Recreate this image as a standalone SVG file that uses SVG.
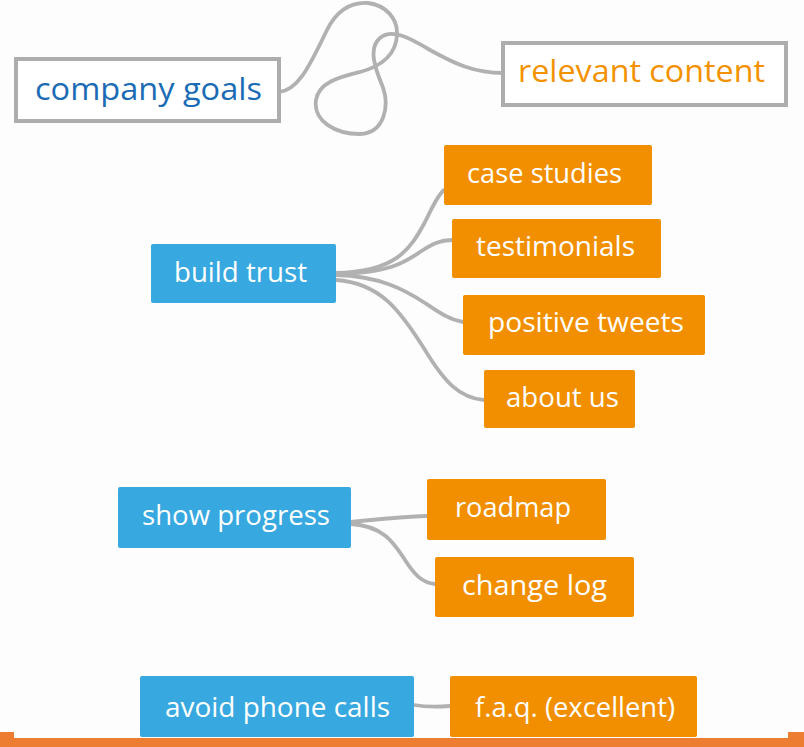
<svg xmlns="http://www.w3.org/2000/svg" width="804" height="747" viewBox="0 0 804 747">
  <style>
    .bg { fill: #fdfdfd; }
    .frame { fill: #ffffff; stroke: #adadad; stroke-width: 4; }
    .goal { fill: #37a8e0; }
    .item { fill: #f18f01; }
    .label { font-family: "Open Sans", "Liberation Sans", sans-serif; font-size: 27.5px; fill: #ffffff; }
    .big { font-family: "Open Sans", "Liberation Sans", sans-serif; font-size: 31px; }
    .link { fill: none; stroke: #b1b1b1; stroke-width: 3.8; stroke-linecap: round; }
    .bar { fill: #ed7d31; }
  </style>

  <rect class="bg" x="0" y="0" width="804" height="747"/>

  <!-- connectors -->
  <g id="connectors">
    <path class="link" d="M279,92 C300,90 312,60 327,30 C337,10 352,2 368,3 C385,5 398,18 397,35 C396,55 382,66 360,72 C340,77 319,82 316,100 C313,121 335,134 360,134 C385,133 390,105 382,85 C375,68 368,48 380,38 C392,28 410,38 430,50 C455,64 475,73 503,73"/>
    <path class="link" d="M336,273 C395,272 410,250 425,222 C432,208 437,196 444,190"/>
    <path class="link" d="M336,274 C390,273 405,262 420,252 C432,244 440,240 452,240"/>
    <path class="link" d="M336,275 C380,276 405,290 425,303 C440,313 450,320 463,322"/>
    <path class="link" d="M336,280 C380,283 400,310 425,350 C445,383 460,398 484,400"/>
    <path class="link" d="M351,522 C380,519 400,517 427,516"/>
    <path class="link" d="M351,524 C385,526 395,545 405,560 C414,574 422,583 435,584"/>
    <path class="link" d="M414,705 C425,707 438,707 450,706"/>
  </g>

  <g id="company-goals">
    <rect class="frame" x="16" y="59" width="263" height="62"/>
    <text class="big" x="35" y="100" fill="#1b6cb4" textLength="227" lengthAdjust="spacingAndGlyphs">company goals</text>
  </g>

  <g id="relevant-content">
    <rect class="frame" x="503" y="43" width="283" height="62"/>
    <text class="big" x="518" y="82" fill="#f39200" textLength="247" lengthAdjust="spacingAndGlyphs">relevant content</text>
  </g>

  <g id="build-trust">
    <rect class="goal" x="151" y="244" width="185" height="59" rx="2"/>
    <text class="label" x="174" y="282" textLength="133" lengthAdjust="spacingAndGlyphs">build trust</text>
  </g>

  <g id="case-studies">
    <rect class="item" x="444" y="145" width="208" height="60" rx="2"/>
    <text class="label" x="467" y="183" textLength="155" lengthAdjust="spacingAndGlyphs">case studies</text>
  </g>

  <g id="testimonials">
    <rect class="item" x="452" y="219" width="209" height="59" rx="2"/>
    <text class="label" x="476" y="256" textLength="159" lengthAdjust="spacingAndGlyphs">testimonials</text>
  </g>

  <g id="positive-tweets">
    <rect class="item" x="463" y="295" width="242" height="60" rx="2"/>
    <text class="label" x="488" y="332" textLength="196" lengthAdjust="spacingAndGlyphs">positive tweets</text>
  </g>

  <g id="about-us">
    <rect class="item" x="484" y="370" width="151" height="58" rx="2"/>
    <text class="label" x="506" y="407" textLength="113" lengthAdjust="spacingAndGlyphs">about us</text>
  </g>

  <g id="show-progress">
    <rect class="goal" x="118" y="487" width="233" height="61" rx="2"/>
    <text class="label" x="142" y="525" textLength="188" lengthAdjust="spacingAndGlyphs">show progress</text>
  </g>

  <g id="roadmap">
    <rect class="item" x="427" y="479" width="179" height="61" rx="2"/>
    <text class="label" x="455" y="517" textLength="116" lengthAdjust="spacingAndGlyphs">roadmap</text>
  </g>

  <g id="change-log">
    <rect class="item" x="435" y="557" width="199" height="60" rx="2"/>
    <text class="label" x="462" y="595" textLength="145" lengthAdjust="spacingAndGlyphs">change log</text>
  </g>

  <g id="avoid-phone-calls">
    <rect class="goal" x="140" y="676" width="274" height="61" rx="2"/>
    <text class="label" x="165" y="717" textLength="225" lengthAdjust="spacingAndGlyphs">avoid phone calls</text>
  </g>

  <g id="faq">
    <rect class="item" x="450" y="676" width="247" height="61" rx="2"/>
    <text class="label" x="475" y="717" textLength="200" lengthAdjust="spacingAndGlyphs">f.a.q. (excellent)</text>
  </g>

  <!-- footer strip -->
  <g id="footer">
    <rect class="bar" x="0" y="738" width="804" height="9"/>
    <rect class="bar" x="0" y="732" width="14" height="6"/>
    <rect class="bar" x="788" y="732" width="16" height="6"/>
  </g>
</svg>
